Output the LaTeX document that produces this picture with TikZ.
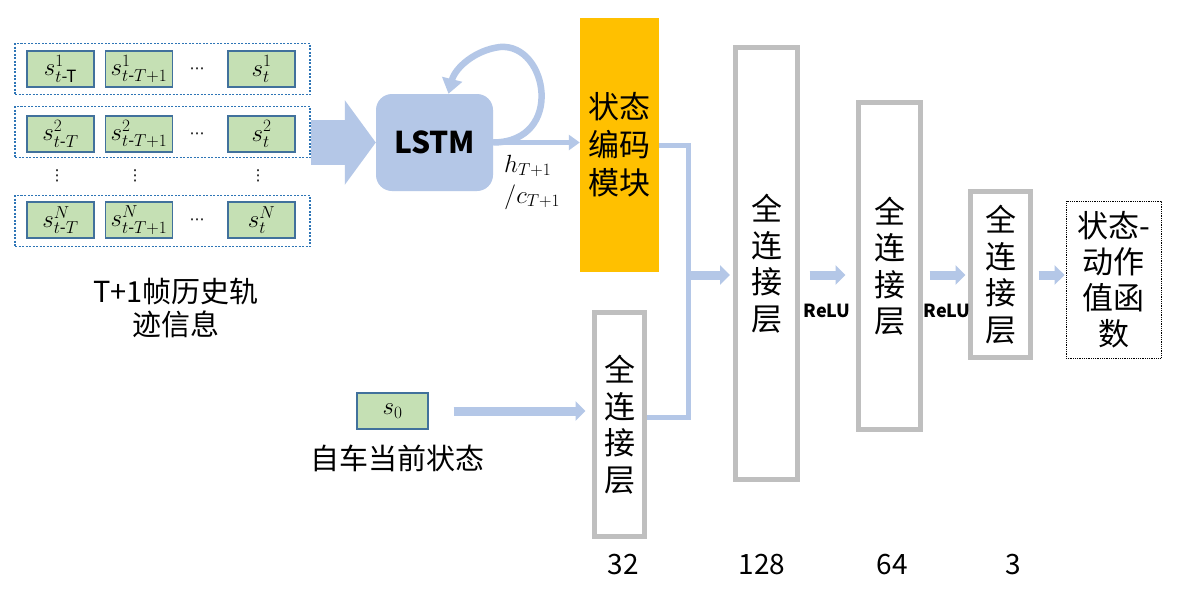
\documentclass[tikz,border=0pt]{standalone}
\usepackage{amsmath}
\usepackage[no-math]{fontspec}
\setmainfont{Noto Sans CJK SC}
\newfontfamily\dvfont{DejaVu Sans}
\usetikzlibrary{arrows.meta}
\definecolor{lb}{HTML}{B4C7E7}
\definecolor{cellg}{HTML}{C5E0B4}
\definecolor{cellb}{HTML}{41719C}
\definecolor{dotb}{HTML}{2E75B6}
\definecolor{fcgray}{HTML}{BFBFBF}
\definecolor{encor}{HTML}{FFC000}
\begin{document}
\begin{tikzpicture}[x=1pt,y=-1pt,
  rowbox/.style={draw=dotb, line width=1.2pt, dash pattern=on 2pt off 1.5pt, minimum width=295pt, minimum height=51pt, inner sep=0pt},
  cell/.style={draw=cellb, fill=cellg, line width=1.4pt, minimum width=67pt, minimum height=36pt, inner sep=0pt, font=\fontsize{24}{26}\selectfont},
  dotsn/.style={inner sep=0pt, font=\fontsize{15}{18}\selectfont\dvfont},
  fcbox/.style={draw=fcgray, line width=5pt, inner sep=0pt, align=center, font=\fontsize{31}{36.5}\selectfont},
  fat/.style={draw=lb, line width=9pt, -{Triangle[length=10pt,width=19pt]}},
  thinarr/.style={draw=lb, line width=5pt, -{Triangle[length=11pt,width=15pt]}},
  merge/.style={draw=lb, line width=5pt},
  lbl/.style={inner sep=0pt, align=center, font=\fontsize{29}{33}\selectfont},
  num/.style={inner sep=0pt, font=\fontsize{28}{32}\selectfont},
  relu/.style={inner sep=0pt, font=\fontsize{18}{20}\selectfont\bfseries}
]
\useasboundingbox[fill=white] (0,0) rectangle (1187,600);

% history rows
\node[rowbox] (r1) at (162.5,69) {};
\node[rowbox] (r2) at (162.5,132) {};
\node[rowbox] (r3) at (162.5,221) {};

\node[cell] (c11) at (60.5,69) {$s^{1}_{t\text{-T}}$};
\node[cell] (c12) at (139,69) {$s^{1}_{t\text{-}T+1}$};
\node[dotsn] (d1) at (197,71) {⋯};
\node[cell] (c13) at (261.5,69) {$s^{1}_{t}$};

\node[cell] (c21) at (60.5,134) {$s^{2}_{t\text{-}T}$};
\node[cell] (c22) at (139,134) {$s^{2}_{t\text{-}T+1}$};
\node[dotsn] (d2) at (197,136) {⋯};
\node[cell] (c23) at (261.5,134) {$s^{2}_{t}$};

\node[dotsn] (v1) at (57,176) {⋮};
\node[dotsn] (v2) at (135,176) {⋮};
\node[dotsn] (v3) at (258,176) {⋮};

\node[cell] (c31) at (60.5,220) {$s^{N}_{t\text{-}T}$};
\node[cell] (c32) at (139,220) {$s^{N}_{t\text{-}T+1}$};
\node[dotsn] (d3) at (197,222) {⋯};
\node[cell] (c33) at (261.5,220) {$s^{N}_{t}$};

\node[lbl] (hist) at (176,308) {T+1帧历史轨\\迹信息};

% LSTM
\node[fill=lb, rounded corners=16pt, minimum width=117pt, minimum height=97pt, inner sep=0pt,
      font=\fontsize{30}{34}\selectfont\bfseries] (lstm) at (434.5,142.5) {LSTM};
\draw[draw=lb, line width=45pt, -{Triangle[length=31pt,width=83pt]}] (r2.east |- lstm.west) -- (lstm.west);

% encoder
\node[fill=encor, minimum width=79pt, minimum height=254pt, inner sep=0pt, align=center,
      font=\fontsize{31}{38}\selectfont] (enc) at (619.5,145) {状态\\编码\\模块};

% loop
\draw[draw=lb, line width=6.5pt, -{Triangle[length=15pt,width=20pt]}]
  (lstm.east) .. controls (565,142) and (548,43) .. (500,47)
  .. controls (475,50) and (455,68) .. ([xshift=14pt]lstm.north);
\draw[thinarr] (lstm.east) -- (enc.west |- lstm.east);
\node[inner sep=0pt, align=left, anchor=west, font=\fontsize{25}{31}\selectfont] (hc) at (504,182) {$h_{T+1}$\\$/c_{T+1}$};

% ego state
\node[cell, minimum width=71pt] (s0) at (392.5,411) {$s_{0}$};
\node[lbl] (ego) at (397,458) {自车当前状态};

% FC layers
\node[fcbox, minimum width=50pt, minimum height=224pt] (fc32) at (619.5,424.5) {全\\连\\接\\层};
\node[fcbox, minimum width=62pt, minimum height=432pt] (fc128) at (766.5,263.5) {全\\连\\接\\层};
\node[fcbox, minimum width=62pt, minimum height=327pt] (fc64) at (889.5,266) {全\\连\\接\\层};
\node[fcbox, minimum width=60pt, minimum height=166pt] (fc3) at (1000.5,274.5) {全\\连\\接\\层};
\node[draw=black, line width=0.8pt, densely dotted, minimum width=95pt, minimum height=157pt, inner sep=0pt,
      align=center, font=\fontsize{31}{36}\selectfont] (out) at (1113.5,279.5) {状态-\\动作\\值函\\数};

\draw[fat, shorten <=25pt, shorten >=6.5pt] (s0.east) -- (fc32.west |- s0.east);

% merge
\coordinate (mx) at (688,275);
\draw[merge] (enc.east) -| (mx);
\draw[merge] ([yshift=7.5pt]fc32.east) -| (mx);
\draw[fat, shorten >=3pt] (mx) -- (fc128.west |- mx);

\draw[fat, shorten <=9.5pt, shorten >=10.5pt] (fc128.east |- mx) -- (fc64.west |- mx);
\draw[fat, shorten <=6.5pt, shorten >=2.5pt] (fc64.east |- mx) -- (fc3.west |- mx);
\draw[fat, shorten <=5.5pt, shorten >=1pt] (fc3.east |- mx) -- (out.west |- mx);

\node[relu] (relu1) at (827,311) {ReLU};
\node[relu] (relu2) at (947,311) {ReLU};

\node[num] (n32) at (623,565) {32};
\node[num] (n128) at (762,565) {128};
\node[num] (n64) at (892,565) {64};
\node[num] (n3) at (1013,565) {3};
\end{tikzpicture}
\end{document}
